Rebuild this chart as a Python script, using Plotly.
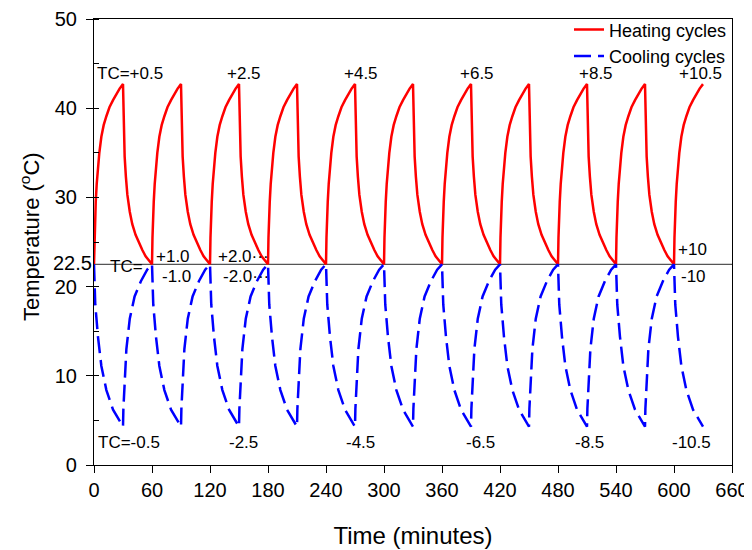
import plotly.graph_objects as go

# one heating/cooling cycle (minutes from cycle start, degC)
heat_t = [0, 0.5, 1.0, 1.8, 2.8, 4.0, 5.5, 7.6, 10.0, 12.8, 16.0, 19.7, 23.0, 26.5, 30,
          30.3, 30.8, 31.7, 33.0, 34.5, 37.0, 39.6, 43.0, 46.5, 50.0, 53.4, 57.0, 60]
heat_temp = [22.5, 25.5, 27.5, 29.5, 31.5, 33.3, 35.0, 36.8, 38.1, 39.1, 40.1, 40.9, 41.6, 42.2, 42.7,
             40.3, 37.5, 34.6, 32.3, 30.3, 28.4, 27.0, 25.8, 24.9, 24.1, 23.4, 22.9, 22.5]
cool_t = [0, 0.3, 0.7, 1.3, 2.4, 4.1, 7.6, 12.8, 19.7, 26.5, 30,
          30.4, 31.0, 31.8, 33.5, 37.0, 42.0, 48.5, 55.0, 60]
cool_temp = [22.5, 20.6, 19.2, 18.0, 16.6, 14.4, 11.1, 8.4, 6.2, 5.0, 4.3,
             6.3, 8.0, 9.6, 13.0, 16.4, 18.9, 20.6, 21.9, 22.5]

cycle_starts = [0, 60, 120, 180, 240, 300, 360, 420, 480, 540, 600]
end_time = 630
ref_temp = 22.5

top_labels = ["TC=+0.5", "+2.5", "+4.5", "+6.5", "+8.5", "+10.5"]
top_x = [37, 155, 276, 396, 519, 627]
bottom_labels = ["TC=-0.5", "-2.5", "-4.5", "-6.5", "-8.5", "-10.5"]
bottom_x = [36, 155, 276, 400, 513, 618]
mid_labels = ["TC=", "+1.0", "-1.0", "+2.0\u00b7\u00b7\u00b7", "-2.0\u00b7\u00b7\u00b7", "+10", "-10"]
mid_x = [34, 82, 85, 126, 131, 619, 620]
mid_y = [22.3, 23.4, 21.1, 23.4, 21.1, 24.2, 21.1]
mid_anchor = ["center", "center", "center", "left", "left", "center", "center"]

x_ticks = list(range(0, 661, 60))
y_ticks = [0, 10, 20, 30, 40, 50]

FONT = "Liberation Sans, Arial, sans-serif"


def tile(ts, vs):
    xs, ys = [], []
    for s in cycle_starts:
        for t, v in zip(ts, vs):
            if s + t > end_time:
                break
            if xs and s + t == xs[-1]:
                continue
            xs.append(s + t)
            ys.append(v)
    return xs, ys


hx, hy = tile(heat_t, heat_temp)
cx, cy = tile(cool_t, cool_temp)

fig = go.Figure()
fig.add_trace(go.Scatter(x=[0, 660], y=[ref_temp, ref_temp], mode="lines",
                         line=dict(color="#555555", width=1.2),
                         showlegend=False, hoverinfo="skip"))
fig.add_trace(go.Scatter(x=hx, y=hy, mode="lines", name="Heating cycles",
                         line=dict(color="#ff0000", width=2.5)))
fig.add_trace(go.Scatter(x=cx, y=cy, mode="lines", name="Cooling cycles",
                         line=dict(color="#0000ff", width=2.5, dash="17px,7px")))

for txt, x in zip(top_labels, top_x):
    fig.add_annotation(x=x, y=43.9, text=txt, showarrow=False,
                       font=dict(size=17, color="black"))
for txt, x in zip(bottom_labels, bottom_x):
    fig.add_annotation(x=x, y=2.5, text=txt, showarrow=False,
                       font=dict(size=17, color="black"))
for txt, x, y, a in zip(mid_labels, mid_x, mid_y, mid_anchor):
    fig.add_annotation(x=x, y=y, text=txt, showarrow=False, xanchor=a,
                       font=dict(size=17, color="black"))

# extra "22.5" label next to the y axis
fig.add_annotation(x=0, xref="paper", y=ref_temp, text=str(ref_temp), showarrow=False,
                   xanchor="right", yanchor="middle", xshift=0, yshift=1,
                   font=dict(size=20, color="black"))
# y axis title placed by hand
fig.add_annotation(x=0, xref="paper", y=0.511, yref="paper",
                   text="Temperature (<sup>o</sup>C)", textangle=-90, showarrow=False,
                   xanchor="center", yanchor="middle", xshift=-64,
                   font=dict(size=22, color="black"))

# page body adds an 8px offset, margins below take it into account
fig.update_layout(
    width=752, height=550,
    margin=dict(l=86, r=28, t=11, b=93, autoexpand=False),
    plot_bgcolor="white", paper_bgcolor="white",
    font=dict(family=FONT, color="black"),
    legend=dict(x=1, y=1.017, xanchor="right", yanchor="top",
                bgcolor="rgba(0,0,0,0)", font=dict(size=18),
                tracegroupgap=0),
)
fig.update_xaxes(range=[0, 660], tickvals=x_ticks, showgrid=False, zeroline=False,
                 showline=True, linecolor="black", linewidth=1.2, mirror=True,
                 ticks="outside", ticklen=7, tickcolor="black", automargin=False,
                 tickfont=dict(size=20),
                 title=dict(text="Time (minutes)", font=dict(size=24), standoff=27))
fig.update_yaxes(range=[0, 50], tickvals=y_ticks,
                 showgrid=False, zeroline=False, automargin=False,
                 showline=True, linecolor="black", linewidth=1.2, mirror=True,
                 ticks="outside", ticklen=7, tickcolor="black", ticklabelstandoff=5,
                 minor=dict(ticks="inside", dtick=5, ticklen=5, tickcolor="black"),
                 tickfont=dict(size=20))

fig.write_html("out.html")
